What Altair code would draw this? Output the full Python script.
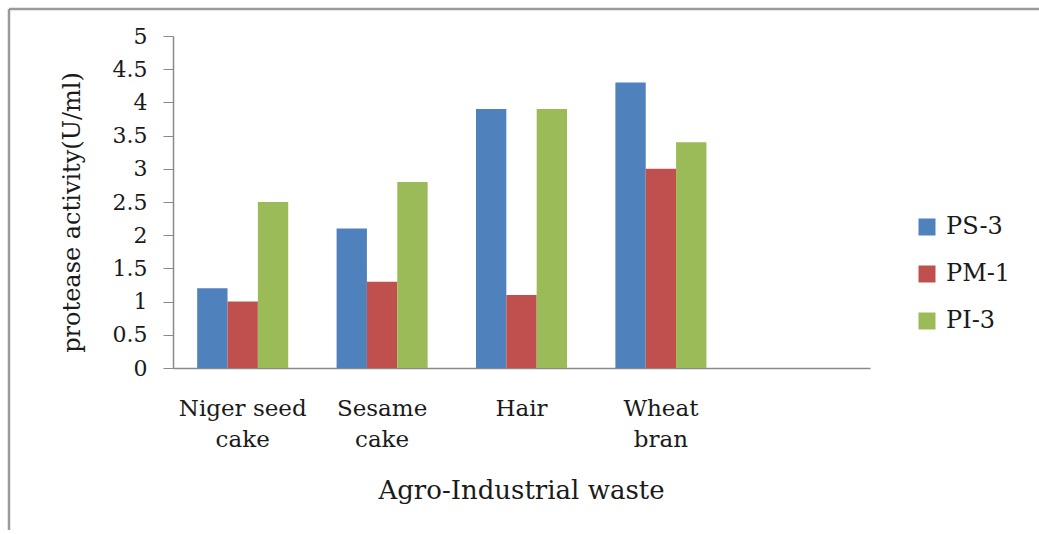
import altair as alt
import pandas as pd

# Protease activity of three isolates on agro-industrial substrates
categories = ["Niger seed cake", "Sesame cake", "Hair", "Wheat bran"]
category_lines = [["Niger seed", "cake"], ["Sesame", "cake"], ["Hair"], ["Wheat", "bran"]]
series = ["PS-3", "PM-1", "PI-3"]
ps3 = [1.2, 2.1, 3.9, 4.3]
pm1 = [1.0, 1.3, 1.1, 3.0]
pi3 = [2.5, 2.8, 3.9, 3.4]
colors = ["#4F81BD", "#C0504D", "#9BBB59"]
y_ticks = [0, 0.5, 1, 1.5, 2, 2.5, 3, 3.5, 4, 4.5, 5]

rows = []
for name, vals in zip(series, [ps3, pm1, pi3]):
    for cat, v in zip(categories, vals):
        rows.append({"waste": cat, "isolate": name, "activity": v})
df = pd.DataFrame(rows)

# an empty fifth slot keeps the category axis running past the last group
x_domain = categories + [""]

# multi-line category labels
label_expr = "".join(
    f"datum.label == '{c}' ? {lines!r} : " for c, lines in zip(categories, category_lines)
) + "''"

FONT = "DejaVu Serif"
INK = "#1a1a1a"
AXIS_GRAY = "#8a8a8a"
FRAME_GRAY = "#9a9a9a"

W, H = 697, 332
PAD_L, PAD_T = 173, 36
TOTAL_W, TOTAL_H = 1039, 530
PAD_R, PAD_B = TOTAL_W - PAD_L - W, TOTAL_H - PAD_T - H

bars = alt.Chart(df).mark_bar().encode(
    x=alt.X(
        "waste:N",
        sort=x_domain,
        scale=alt.Scale(domain=x_domain, paddingInner=0.347, paddingOuter=0.1735),
        axis=alt.Axis(
            title="Agro-Industrial waste",
            titleFont=FONT,
            titleFontSize=26,
            titleFontWeight="normal",
            titleColor=INK,
            titleX=348,
            titleY=122,
            titleBaseline="middle",
            labelExpr=label_expr,
            labelFont=FONT,
            labelFontSize=23,
            labelColor=INK,
            labelAngle=0,
            labelBaseline="top",
            labelPadding=29,
            labelLineHeight=31,
            labelLimit=300,
            ticks=False,
            domainColor=AXIS_GRAY,
            domainWidth=1.5,
        ),
    ),
    xOffset=alt.XOffset("isolate:N", sort=series, scale=alt.Scale(domain=series, paddingInner=0, paddingOuter=0)),
    y=alt.Y(
        "activity:Q",
        scale=alt.Scale(domain=[0, 5], nice=False),
        axis=alt.Axis(
            title="protease activity(U/ml)",
            titleFont=FONT,
            titleFontSize=24,
            titleFontWeight="normal",
            titleColor=INK,
            titleAngle=270,
            titleX=-101,
            titleY=176,
            titleAlign="center",
            titleBaseline="middle",
            values=y_ticks,
            format="~g",
            labelFont=FONT,
            labelFontSize=22,
            labelColor=INK,
            labelPadding=16,
            tickSize=10,
            tickColor=AXIS_GRAY,
            domainColor=AXIS_GRAY,
            domainWidth=1.5,
            grid=False,
        ),
    ),
    color=alt.Color(
        "isolate:N",
        sort=series,
        scale=alt.Scale(domain=series, range=colors),
        legend=alt.Legend(
            title=None,
            orient="none",
            legendX=742,
            legendY=179,
            symbolType="square",
            symbolSize=289,
            symbolStrokeWidth=0,
            labelFont=FONT,
            labelFontSize=24,
            labelColor=INK,
            labelOffset=7,
            rowPadding=23,
        ),
    ),
)

# frame lines along the top and left edges of the figure
one = pd.DataFrame({"f": [0]})
frame_top = alt.Chart(one).mark_rule(color=FRAME_GRAY, strokeWidth=2.5).encode(
    x=alt.value(9 - PAD_L),
    x2=alt.value(TOTAL_W - PAD_L + 20),
    y=alt.value(9 - PAD_T),
)
frame_left = alt.Chart(one).mark_rule(color=FRAME_GRAY, strokeWidth=2.5).encode(
    x=alt.value(9 - PAD_L),
    y=alt.value(9 - PAD_T),
    y2=alt.value(TOTAL_H - PAD_T + 20),
)

chart = alt.layer(frame_top, frame_left, bars).properties(
    width=W,
    height=H,
    autosize=alt.AutoSizeParams(type="none"),
    padding={"left": PAD_L, "top": PAD_T, "right": PAD_R, "bottom": PAD_B},
    background="white",
).configure_view(stroke=None)

chart.save("out.html", embed_options={"renderer": "svg", "actions": False})
